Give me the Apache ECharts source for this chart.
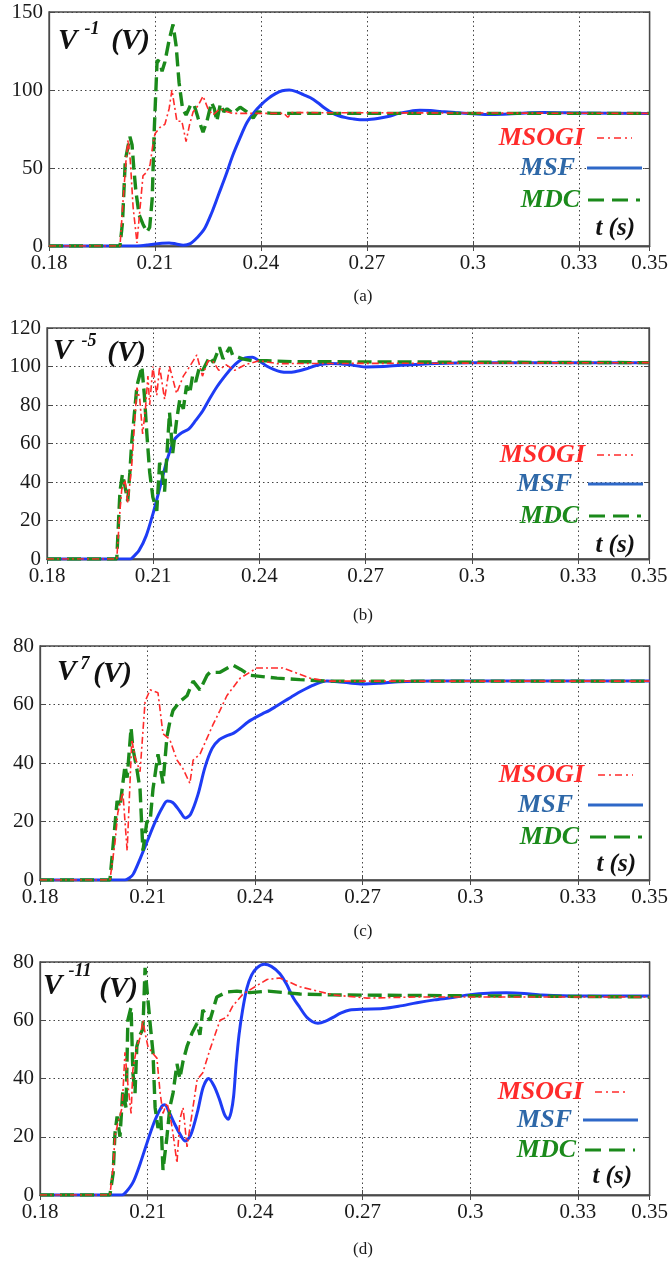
<!DOCTYPE html>
<html><head><meta charset="utf-8">
<script src="https://cdn.jsdelivr.net/npm/echarts@6/dist/echarts.min.js"></script>
<style>html,body{margin:0;padding:0;background:#fff}#c{width:671px;height:1265px}</style>
</head><body><div id="c"></div>
<script>
// ---- data (t in s, V in volts) ----
const xTickLabels = ['0.18','0.21','0.24','0.27','0.3','0.33','0.35'];
const yTicksA = [0,50,100,150];
const yTicksB = [0,20,40,60,80,100,120];
const yTicksC = [0,20,40,60,80];
const yTicksD = [0,20,40,60,80];
const seriesNames = ['MSOGI','MSF','MDC'];
const panelTitles = [['V',' -1',' (V)'],['V',' -5',' (V)'],['V',' 7',' (V)'],['V',' -11',' (V)']];
const captions = ['(a)','(b)','(c)','(d)'];

const a_msf = [[0.18,0],[0.204,0],[0.206,0.2],[0.208,0.7],[0.210,1.3],[0.212,1.8],[0.214,2],[0.216,1.3],[0.218,0.5],[0.220,1.5],[0.222,5.5],[0.224,11],[0.226,21],[0.228,33],[0.230,45],[0.232,58],[0.234,69],[0.236,79],[0.238,85.5],[0.240,90.5],[0.242,94.5],[0.244,97.5],[0.246,99.5],[0.248,100],[0.250,99],[0.252,97],[0.254,95],[0.256,92],[0.258,88.5],[0.260,85.5],[0.262,83.5],[0.264,82.3],[0.266,81.5],[0.268,81],[0.270,81],[0.273,81.7],[0.276,83],[0.279,85],[0.282,86.3],[0.285,87],[0.288,86.8],[0.291,86.2],[0.295,85.5],[0.300,84.8],[0.305,84.3],[0.310,84.6],[0.315,85.3],[0.320,85.6],[0.330,85.3],[0.35,85]];
const a_mdc = [[0.18,0],[0.2001,0],[0.2008,15],[0.2016,55],[0.2029,70],[0.2035,65],[0.2040,50],[0.2046,35],[0.2055,20],[0.2066,14],[0.2077,9],[0.2085,12],[0.2092,30],[0.2098,75],[0.2106,119],[0.2114,118],[0.2120,112],[0.2128,118],[0.2140,132],[0.2151,142],[0.2160,128],[0.2168,105],[0.2178,88],[0.2188,84],[0.2200,90],[0.2210,91],[0.2222,82],[0.2236,73],[0.2247,80],[0.2260,92],[0.2268,88],[0.2275,80],[0.2285,91],[0.2295,86],[0.2304,88],[0.2321,85],[0.2341,89],[0.2360,86],[0.2378,82],[0.2390,86],[0.2430,85],[0.35,85]];
const a_msogi = [[0.18,0],[0.2001,0],[0.2010,30],[0.2018,55],[0.2024,68],[0.2030,55],[0.2038,25],[0.2049,2],[0.2056,20],[0.2066,45],[0.2075,47],[0.2086,52],[0.2094,65],[0.2100,72],[0.2114,76],[0.2128,78],[0.2140,88],[0.2148,100],[0.2155,90],[0.2162,80],[0.2176,80],[0.2188,67],[0.2198,78],[0.2208,86],[0.2222,90],[0.2236,96],[0.2250,88],[0.2264,84],[0.2284,88],[0.2304,86],[0.232,85],[0.2465,85],[0.2476,82.5],[0.2487,85.5],[0.35,85]];

const b_msf = [[0.18,0],[0.2034,0],[0.204,0.5],[0.206,4.5],[0.208,12],[0.210,24],[0.212,38],[0.214,52],[0.216,62],[0.218,65.5],[0.220,67.5],[0.222,72],[0.224,77],[0.226,83.5],[0.228,89.5],[0.230,94.5],[0.232,99],[0.234,102.5],[0.236,104.5],[0.238,104.8],[0.240,102.8],[0.242,100.3],[0.244,98.5],[0.246,97.3],[0.248,97],[0.250,97.3],[0.253,98.7],[0.256,100.5],[0.260,101.5],[0.265,101],[0.270,99.8],[0.275,100],[0.280,100.7],[0.290,101.6],[0.300,102],[0.35,102]];
const b_mdc = [[0.18,0],[0.1997,0],[0.2006,35],[0.2013,44],[0.2020,38],[0.2028,30],[0.2034,45],[0.2039,60],[0.2054,90],[0.2068,100],[0.2075,85],[0.2082,65],[0.2090,45],[0.2099,32],[0.2110,25],[0.2118,50],[0.2125,45],[0.2132,35],[0.2146,76],[0.2155,55],[0.2166,72],[0.2175,83],[0.2185,78],[0.2194,90],[0.2203,86],[0.2211,95],[0.2220,92],[0.2231,100],[0.2240,98],[0.2259,105],[0.2270,102],[0.2287,110],[0.2297,104],[0.2316,110],[0.2324,106],[0.2352,104],[0.2380,103],[0.2420,103],[0.2500,102.5],[0.35,102]];
const b_msogi = [[0.18,0],[0.1997,0],[0.2006,25],[0.2011,36],[0.2020,41],[0.2028,29],[0.2039,48],[0.2054,89],[0.2062,83],[0.2070,65],[0.2078,78],[0.2085,95],[0.2090,80],[0.2099,100],[0.2110,85],[0.2118,100],[0.2132,83],[0.2146,100],[0.2166,86],[0.2185,95],[0.2203,100],[0.2223,106],[0.2239,95],[0.2255,103],[0.2268,103],[0.2285,98],[0.2305,101],[0.2330,98],[0.2360,101],[0.2400,103],[0.2450,101.5],[0.35,102]];

const c_msf = [[0.18,0],[0.2037,0],[0.205,0.8],[0.206,2],[0.208,7.5],[0.210,13.5],[0.212,19.5],[0.214,24.5],[0.2155,27],[0.217,26.5],[0.219,23.5],[0.2205,21.2],[0.222,22.5],[0.224,29],[0.226,38.5],[0.228,45],[0.230,48],[0.232,49.3],[0.234,50.2],[0.236,52],[0.238,54],[0.240,55.5],[0.242,56.8],[0.244,58],[0.246,59.5],[0.248,61],[0.250,62.5],[0.252,64],[0.254,65.3],[0.256,66.5],[0.258,67.5],[0.260,68],[0.263,67.8],[0.266,67.4],[0.270,67],[0.275,67.3],[0.280,67.8],[0.290,68],[0.35,68]];
const c_mdc = [[0.18,0],[0.1995,0],[0.2004,12],[0.2015,27],[0.2023,25],[0.2037,39],[0.2043,35],[0.2054,52],[0.2059,45],[0.2070,38],[0.2079,31],[0.2087,10],[0.2098,20],[0.2107,20],[0.2115,31],[0.2129,43],[0.2143,33],[0.2154,49],[0.2162,54],[0.2171,58],[0.2190,61],[0.2210,63],[0.2227,68],[0.2246,65],[0.2266,70],[0.2274,71],[0.2302,71],[0.2330,73],[0.2338,73.5],[0.2360,72],[0.2385,70],[0.2461,69],[0.2525,68.5],[0.2600,68],[0.35,68]];
const c_msogi = [[0.18,0],[0.1995,0],[0.2009,12.6],[0.2017,23],[0.2031,30],[0.2043,10],[0.2056,48],[0.2065,42],[0.2079,37],[0.2093,61],[0.2107,65],[0.2129,64],[0.2143,50],[0.2162,48],[0.2182,41],[0.2199,38],[0.2218,33],[0.2227,41],[0.2246,43],[0.2282,53],[0.2302,58],[0.2321,63],[0.2358,69],[0.2405,72.5],[0.2477,72.5],[0.2553,69],[0.2600,68],[0.35,68]];

const d_msf = [[0.18,0],[0.2029,0],[0.204,1],[0.206,4.5],[0.208,11],[0.210,18.5],[0.212,25.5],[0.214,30.5],[0.2148,31],[0.216,28.5],[0.2175,24.5],[0.219,21],[0.2205,18.5],[0.222,20.5],[0.224,29],[0.2255,37],[0.227,40],[0.2285,37.5],[0.230,33],[0.2315,27.5],[0.2325,26],[0.2333,28.5],[0.2340,34],[0.2347,45],[0.2355,55],[0.2365,63.5],[0.2377,71],[0.2390,75.5],[0.2405,78],[0.2425,79.2],[0.2445,78.5],[0.2469,76],[0.2487,72.5],[0.2505,68],[0.2525,64.3],[0.2544,61],[0.2560,59.5],[0.2575,59],[0.2595,59.6],[0.2617,61],[0.2640,62.5],[0.2664,63.5],[0.2700,63.8],[0.2756,64],[0.2800,64.8],[0.2851,66],[0.2900,67],[0.2950,67.8],[0.3000,68.8],[0.3050,69.3],[0.3100,69.4],[0.3150,69.2],[0.3200,68.7],[0.3300,68.3],[0.35,68.3]];
const d_mdc = [[0.18,0],[0.1995,0],[0.2004,7.5],[0.2009,21],[0.2015,27],[0.2023,20],[0.2031,36],[0.2040,30],[0.2045,60],[0.2054,64.5],[0.2059,42],[0.2065,35],[0.2070,51],[0.2079,55],[0.2087,57],[0.2093,78],[0.2098,71],[0.2107,59],[0.2115,49],[0.2121,30],[0.2129,23],[0.2137,27],[0.2143,8.6],[0.2154,20],[0.2162,30],[0.2171,35],[0.2182,45],[0.2190,40],[0.2199,46],[0.2210,51],[0.2224,55.6],[0.2238,59],[0.2246,55],[0.2254,63.5],[0.2274,60],[0.2293,68],[0.2321,69.7],[0.2349,70],[0.2385,69.5],[0.2436,70],[0.2525,69],[0.2617,68.7],[0.35,68]];
const d_msogi = [[0.18,0],[0.1995,0],[0.2004,9.6],[0.2009,20],[0.2017,24.7],[0.2029,30],[0.2037,49],[0.2045,38],[0.2054,28],[0.2059,43],[0.2070,51],[0.2079,54],[0.2087,60],[0.2093,55.6],[0.2101,51],[0.2112,49],[0.2126,47],[0.2135,35],[0.2143,28],[0.2154,31.6],[0.2162,28],[0.2171,21],[0.2182,11],[0.2190,26],[0.2199,30],[0.2210,16.5],[0.2224,28],[0.2238,39.5],[0.2254,42],[0.2274,50],[0.2302,60],[0.2321,61],[0.2338,65],[0.2366,69],[0.2433,74],[0.2469,74.5],[0.2525,71.5],[0.2617,68.7],[0.2712,67.6],[0.2850,68],[0.35,68]];

// ---- layout / style ----
const panels = [
  {grid:{left:49,top:12,width:601,height:234}, yt:yTicksA, d:[a_msogi,a_msf,a_mdc],
   title:{x:[58,80,104], y:[42,29,42]}, leg:{y:[138,168,200,229], tx:[584,575,580,635], lx:[[597,632],[587,642],[588,640]]}, cap:297},
  {grid:{left:47,top:328,width:602,height:231}, yt:yTicksB, d:[b_msogi,b_msf,b_mdc],
   title:{x:[53,77,100], y:[352,341,354]}, leg:{y:[455,484,516,546], tx:[585,572,579,635], lx:[[597,633],[588,643],[589,641]]}, cap:616},
  {grid:{left:40,top:646,width:610,height:234}, yt:yTicksC, d:[c_msogi,c_msf,c_mdc],
   title:{x:[57,76,86], y:[673,664,675]}, leg:{y:[775,805,837,865], tx:[584,573,579,636], lx:[[598,633],[588,643],[590,642]]}, cap:932},
  {grid:{left:40,top:962,width:610,height:233}, yt:yTicksD, d:[d_msogi,d_msf,d_mdc],
   title:{x:[43,64,92], y:[987,971,990]}, leg:{y:[1092,1120,1150,1177], tx:[583,572,576,632], lx:[[595,628],[583,638],[585,635]]}, cap:1250}
];
const lineCol = {MSOGI:'#ff2b2b', MSF:'#1e3cf5', MDC:'#1b8a1b'};
const textCol = {MSOGI:'#ff2b2b', MSF:'#2e68a8', MDC:'#1b8a1b'};
const dash = {MSOGI:[7,3,2,3], MSF:'solid', MDC:[14,6]};
const widths = {MSOGI:1.6, MSF:3, MDC:3.4};
const axisCol = '#4a4a4a';
const serifName = 'Liberation Serif';

const grid=[], xAxis=[], yAxis=[], series=[], graphic=[];
panels.forEach((p,i)=>{
  grid.push(Object.assign({show:true, borderColor:axisCol, borderWidth:1.3, backgroundColor:'#fff'}, p.grid));
  const yt = p.yt;
  xAxis.push({type:'value', gridIndex:i, min:0.18, max:0.35, interval:0.03, position:'bottom',
    axisLine:{show:true, lineStyle:{color:axisCol, width:1.3}},
    axisTick:{show:true, inside:true, length:5, lineStyle:{color:axisCol}},
    axisLabel:{margin:7, fontFamily:serifName, fontSize:21, color:'#1a1a1a',
      formatter:v=>{const s=(+v.toFixed(2)).toString(); return xTickLabels.includes(s)?s:'';}},
    splitLine:{show:true, lineStyle:{color:'#444', type:[1.5,3], width:1}}});
  xAxis.push({type:'value', gridIndex:i, min:0.18, max:0.35, interval:0.03, position:'top',
    axisLine:{show:true, lineStyle:{color:axisCol, width:1.3}},
    axisTick:{show:true, inside:true, length:5, lineStyle:{color:axisCol}},
    axisLabel:{show:false}, splitLine:{show:false}});
  yAxis.push({type:'value', gridIndex:i, min:yt[0], max:yt[yt.length-1], interval:yt[1]-yt[0], position:'left',
    axisLine:{show:true, lineStyle:{color:axisCol, width:1.3}},
    axisTick:{show:true, inside:true, length:5, lineStyle:{color:axisCol}},
    axisLabel:{margin:6, fontFamily:serifName, fontSize:21, color:'#1a1a1a'},
    splitLine:{show:true, lineStyle:{color:'#444', type:[1.5,3], width:1}}});
  yAxis.push({type:'value', gridIndex:i, min:yt[0], max:yt[yt.length-1], interval:yt[1]-yt[0], position:'right',
    axisLine:{show:true, lineStyle:{color:axisCol, width:1.3}},
    axisTick:{show:true, inside:true, length:5, lineStyle:{color:axisCol}},
    axisLabel:{show:false}, splitLine:{show:false}});
  [1,2,0].forEach(k=>{
    const nm = seriesNames[k];
    series.push({name:nm, type:'line', xAxisIndex:2*i, yAxisIndex:2*i, data:p.d[k],
      showSymbol:false, symbol:'none', smooth: nm==='MSF'?0.3:false,
      clip:true, z: nm==='MSOGI'?4:(nm==='MDC'?3:2),
      lineStyle:{color:lineCol[nm], width:widths[nm], type:dash[nm]}});
  });
  const tf = 'italic bold 29px '+serifName;
  graphic.push({type:'text', z:10, style:{text:panelTitles[i][0], x:p.title.x[0], y:p.title.y[0], font:tf, fill:'#111', textVerticalAlign:'middle'}});
  graphic.push({type:'text', z:10, style:{text:panelTitles[i][1], x:p.title.x[1], y:p.title.y[1], font:'italic bold 18px '+serifName, fill:'#111', textVerticalAlign:'middle'}});
  graphic.push({type:'text', z:10, style:{text:panelTitles[i][2], x:p.title.x[2], y:p.title.y[2], font:tf, fill:'#111', textVerticalAlign:'middle'}});
  const lf = 'italic bold 26px '+serifName;
  seriesNames.forEach((nm,k)=>{
    graphic.push({type:'text', z:10, style:{text:nm, x:p.leg.tx[k], y:p.leg.y[k], font:lf, fill:textCol[nm], textAlign:'right', textVerticalAlign:'middle'}});
    graphic.push({type:'line', z:10, shape:{x1:p.leg.lx[k][0], y1:p.leg.y[k], x2:p.leg.lx[k][1], y2:p.leg.y[k]},
      style:{stroke: nm==='MSF'?'#2e68c8':lineCol[nm], lineWidth: nm==='MSOGI'?1.6:3, lineDash: nm==='MSF'?null:(nm==='MSOGI'?[7,4,2,4]:[16,8])}});
  });
  graphic.push({type:'text', z:10, style:{text:'t (s)', x:p.leg.tx[3], y:p.leg.y[3], font:'italic bold 25px '+serifName, fill:'#111', textAlign:'right', textVerticalAlign:'middle'}});
  graphic.push({type:'text', z:10, style:{text:captions[i], x:363, y:p.cap, font:'17px '+serifName, fill:'#1a1a1a', textAlign:'center', textVerticalAlign:'middle'}});
});

const chart = echarts.init(document.getElementById('c'), null, {renderer:'canvas'});
chart.setOption({animation:false, backgroundColor:'#fff', grid, xAxis, yAxis, series, graphic});
</script></body></html>
